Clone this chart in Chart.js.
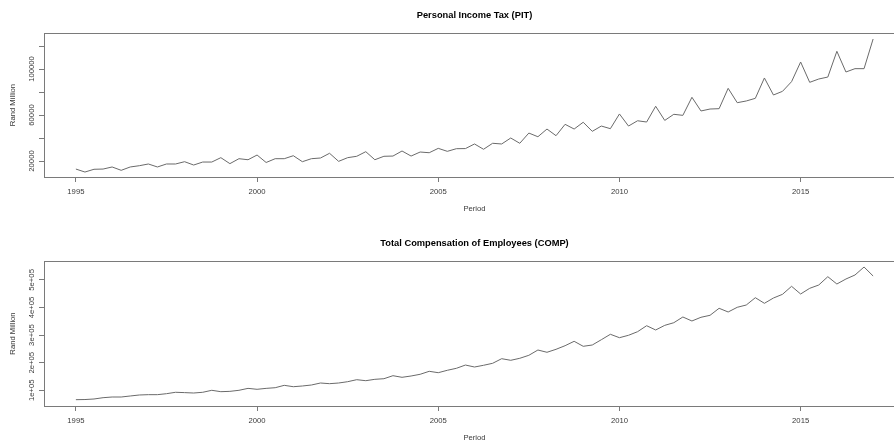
<!DOCTYPE html>
<html>
<head>
<meta charset="utf-8">
<script src="https://cdn.jsdelivr.net/npm/chart.js@4/dist/chart.umd.min.js"></script>
<style>
  html, body { margin: 0; padding: 0; background: #fff; overflow: hidden; width: 894px; height: 441px; }
  .panel { position: absolute; left: 0; width: 910px; }
  #p1 { top: 0; height: 220px; }
  #p2 { top: 220px; height: 221px; }
  canvas { display: block; }
</style>
</head>
<body>
<div class="panel" id="p1"><canvas id="c1" width="910" height="220"></canvas></div>
<div class="panel" id="p2"><canvas id="c2" width="910" height="221"></canvas></div>
<script>
// ---- Data (quarterly, 1995Q1 .. 2017Q1) ----
const startYear = 1995;
const xTickValues = [1995, 2000, 2005, 2010, 2015];

const pit = [13000,10400,12800,13000, 14800,11900,14800,15900, 17400,14800,17400,17400,
  19400,16500,19100,19100, 22900,17700,22000,21100, 25200,18700,22000,22000,
  24600,19400,22000,22600, 26700,19700,22900,24100, 28100,21100,24100,24300,
  28700,24300,27800,27200, 31000,28400,30700,30800, 34800,30200,35400,34800,
  40000,35400,44300,41100, 47800,42000,51900,47800, 53700,45800,50400,48100,
  60900,50400,55000,53900, 67600,55300,60600,59700, 75400,63500,65200,65500,
  83200,70700,72200,74500, 92200,77400,80600,89000, 106100,88400,91300,93000,
  115400,97400,100300,100300, 126100];

const comp = [66000,66500,68500,73200, 75700,75700,79400,83000, 84200,84200,87700,92800,
  91600,90200,92800,100000, 95000,96200,100000,107000, 103600,107000,109400,118000,
  113000,115600,119200,126400, 124000,126400,131200,138400, 134800,139800,142000,152900,
  147100,151800,158000,168800, 163800,172500,179700,191500, 184400,190600,197800,214500,
  208700,216000,226800,246000, 237700,248500,261600,277500, 259400,264100,283300,302900,
  290600,299300,312300,334000, 318500,335300,344900,365600, 351100,364500,371700,397100,
  383700,400700,409000,435500, 415200,434400,447800,476800, 448900,469500,481500,511600,
  485100,503200,517700,546700, 514100];

const pitYTicks = [20000, 40000, 60000, 80000, 100000, 120000];
const pitYLabels = {20000: "20000", 60000: "60000", 100000: "100000"};
const compYTicks = [100000, 200000, 300000, 400000, 500000];
const compYLabels = {100000: "1e+05", 200000: "2e+05", 300000: "3e+05", 400000: "4e+05", 500000: "5e+05"};

const periods = pit.map((_, i) => startYear + i / 4);

// ---- Styling ----
const FONT = "'Liberation Sans', Arial, sans-serif";
const AXIS_COLOR = '#7a7a7a';
const TEXT_COLOR = '#3a3a3a';
const LINE_COLOR = '#6a6a6a';
const SMALL = 7.7;

const framePlugin = {
  id: 'frame',
  afterDraw(chart, args, opts) {
    const ctx = chart.ctx;
    const a = chart.chartArea;
    ctx.save();
    ctx.strokeStyle = AXIS_COLOR;
    ctx.lineWidth = 1;
    ctx.strokeRect(Math.round(a.left) + 0.5, Math.round(a.top) + 0.5,
                   Math.round(a.right - a.left), Math.round(a.bottom - a.top));
    // title
    const cx = (a.left + a.right) / 2;
    ctx.fillStyle = '#000';
    ctx.font = 'bold 9.3px ' + FONT;
    ctx.textAlign = 'center';
    ctx.textBaseline = 'middle';
    ctx.fillText(opts.title, cx, a.top - opts.titleGap);
    // x title
    ctx.fillStyle = TEXT_COLOR;
    ctx.font = SMALL + 'px ' + FONT;
    ctx.fillText('Period', cx, a.bottom + 31.8);
    // y title and y tick labels (rotated, as in R)
    const ys = chart.scales.y;
    ctx.save();
    ctx.translate(13, (a.top + a.bottom) / 2);
    ctx.rotate(-Math.PI / 2);
    ctx.fillText('Rand Million', 0, 0);
    ctx.restore();
    Object.keys(opts.yLabels).forEach(k => {
      const py = ys.getPixelForValue(Number(k));
      ctx.save();
      ctx.translate(31.7, py);
      ctx.rotate(-Math.PI / 2);
      ctx.fillText(opts.yLabels[k], 0, 0);
      ctx.restore();
    });
    ctx.restore();
  }
};

function makeChart(id, values, yMin, yMax, yTicks, yLabels, title, padTop, titleGap, xAxisHeight) {
  return new Chart(document.getElementById(id), {
    type: 'line',
    data: {
      datasets: [{
        data: values.map((v, i) => ({x: periods[i], y: v})),
        borderColor: LINE_COLOR,
        borderWidth: 1,
        pointRadius: 0,
        tension: 0,
        fill: false
      }]
    },
    options: {
      responsive: false,
      animation: false,
      devicePixelRatio: 1,
      layout: { padding: { top: padTop, right: 5, left: 0, bottom: 0 } },
      plugins: {
        legend: { display: false },
        tooltip: { enabled: false },
        frame: { title: title, yLabels: yLabels, titleGap: titleGap }
      },
      scales: {
        x: {
          type: 'linear',
          min: 1994.12,
          max: 2017.88,
          afterBuildTicks: s => { s.ticks = xTickValues.map(v => ({value: v})); },
          afterFit: s => { s.height = xAxisHeight; s.paddingLeft = 0; s.paddingRight = 0; },
          ticks: {
            autoSkip: false, maxRotation: 0, minRotation: 0,
            color: TEXT_COLOR, font: { family: FONT, size: SMALL }, padding: 5,
            callback: v => String(v)
          },
          grid: { display: true, drawOnChartArea: false, drawTicks: true, tickLength: 5, color: AXIS_COLOR, lineWidth: 1 },
          border: { display: true, color: AXIS_COLOR, width: 1 }
        },
        y: {
          type: 'linear',
          min: yMin,
          max: yMax,
          afterBuildTicks: s => { s.ticks = yTicks.map(v => ({value: v})); },
          afterFit: s => { s.width = 44; },
          ticks: { display: false },
          grid: { display: true, drawOnChartArea: false, drawTicks: true, tickLength: 5, color: AXIS_COLOR, lineWidth: 1 },
          border: { display: true, color: AXIS_COLOR, width: 1 }
        }
      }
    },
    plugins: [framePlugin]
  });
}

makeChart('c1', pit, 6087, 131309, pitYTicks, pitYLabels, 'Personal Income Tax (PIT)', 33, 18, 43);
makeChart('c2', comp, 43119, 568455, compYTicks, compYLabels, 'Total Compensation of Employees (COMP)', 41, 17.7, 35);
</script>
</body>
</html>
